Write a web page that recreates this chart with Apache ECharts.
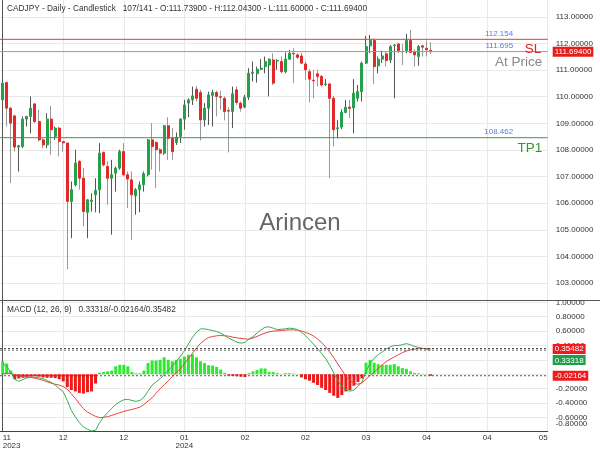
<!DOCTYPE html>
<html><head><meta charset="utf-8">
<script src="https://cdn.jsdelivr.net/npm/echarts@6/dist/echarts.min.js"></script>
<style>html,body{margin:0;padding:0;background:#fff}#c{width:600px;height:450px}</style>
</head><body><div id="c"></div>
<script>
const titleText = 'CADJPY - Daily - Candlestick   107/141 - O:111.73900 - H:112.04300 - L:111.60000 - C:111.69400';
const macdTitle = 'MACD (12, 26, 9)   0.33318/-0.02164/0.35482';
const watermark = 'Arincen';

const opens = [109.88,110.53,109.57,109.28,108.11,108.13,109.16,109.26,109.73,109.07,108.38,108.19,109.16,108.51,108.82,108.32,108.26,106.07,106.69,107.57,106.94,105.66,106.07,106.32,106.51,107.91,107.38,106.94,107.13,107.32,107.94,107.07,106.88,106.28,106.51,106.69,107.07,108.38,108.28,108.01,107.88,108.91,108.44,108.28,108.51,109.16,109.76,109.88,110.28,110.16,109.13,109.57,110.05,110.16,110.00,109.94,109.48,109.44,110.26,109.76,109.61,109.98,110.88,110.86,111.03,111.13,111.19,111.38,111.34,111.32,110.94,111.41,111.63,111.57,111.53,111.23,110.94,110.62,110.86,110.76,110.46,110.48,109.94,108.80,108.86,109.41,109.61,109.58,109.94,110.19,111.26,111.91,112.11,111.16,111.41,111.61,111.38,111.92,111.98,111.70,111.73,112.11,111.69,111.51,111.91,111.82,111.739];
const highs = [110.69,110.57,109.61,109.32,108.19,109.26,109.28,110.01,109.76,109.51,108.44,109.38,109.66,108.88,108.88,108.32,108.28,106.82,108.01,107.63,107.32,106.15,106.38,106.94,108.26,107.94,107.57,107.63,107.38,108.01,108.26,107.19,107.19,106.57,106.82,107.19,108.41,109.01,108.32,108.07,108.94,109.23,108.82,108.66,109.19,109.88,109.94,110.38,110.41,110.26,109.76,110.19,110.26,110.23,110.23,110.01,109.61,110.38,110.38,109.82,110.07,111.07,111.32,111.13,111.41,111.51,111.44,111.63,111.41,111.51,111.66,111.76,111.82,111.63,111.63,111.32,111.03,111.01,111.01,110.82,110.66,110.51,110.03,109.13,109.53,109.88,109.88,110.66,110.44,111.32,112.28,112.32,112.19,111.51,111.73,111.69,111.94,111.98,112.01,111.98,112.36,112.51,111.78,111.94,111.94,112.11,112.043];
const lows = [109.69,108.88,106.76,107.94,107.19,108.07,108.88,108.63,109.01,108.32,108.07,108.07,107.82,108.38,107.76,107.94,103.53,104.69,106.63,106.51,105.13,104.69,105.69,105.66,105.63,107.38,105.94,104.82,106.44,107.26,107.01,105.82,104.63,105.57,105.66,106.44,107.01,107.26,106.57,107.19,107.82,107.63,107.63,108.19,108.26,108.76,109.23,109.69,109.82,108.36,108.88,108.94,108.88,109.26,109.51,109.11,107.91,108.82,109.69,109.44,109.57,109.88,110.57,110.53,111.01,110.88,110.01,110.44,111.01,110.88,110.88,111.38,110.51,111.41,111.23,110.63,109.78,109.94,110.38,110.38,110.41,106.94,108.13,108.44,108.78,109.38,109.19,108.63,109.82,109.82,111.23,111.63,110.48,110.88,111.26,111.13,111.26,109.94,111.63,111.19,111.63,111.63,111.13,111.16,111.51,111.51,111.600];
const closes = [110.51,109.57,109.01,108.11,108.16,109.16,109.26,109.57,109.07,108.38,108.19,109.16,108.76,108.82,108.32,108.27,106.07,106.51,107.51,106.94,105.69,106.13,106.12,106.48,107.88,107.44,106.94,107.07,107.32,107.94,107.07,106.91,106.32,106.51,106.69,107.11,108.38,108.13,108.01,107.88,108.91,108.44,107.94,108.48,109.16,109.69,109.88,110.03,109.94,109.13,109.57,110.07,110.16,110.01,109.98,109.44,109.46,110.11,109.78,109.57,109.98,110.88,110.92,111.03,111.07,111.32,111.41,110.51,111.36,110.94,111.41,111.63,111.61,111.48,111.26,111.01,110.66,110.60,110.76,110.44,110.48,109.94,108.76,108.83,109.41,109.61,109.56,110.13,110.19,111.26,111.88,112.11,111.13,111.41,111.53,111.36,111.88,111.94,111.73,111.69,112.11,111.66,111.57,111.88,111.86,111.76,111.694];

const macdLine = [0.147,0.11,0.027,-0.075,-0.098,-0.075,-0.052,-0.042,-0.042,-0.052,-0.061,-0.089,-0.112,-0.153,-0.2,-0.245,-0.365,-0.503,-0.596,-0.674,-0.734,-0.766,-0.79,-0.78,-0.674,-0.596,-0.536,-0.476,-0.42,-0.384,-0.356,-0.351,-0.365,-0.379,-0.365,-0.319,-0.236,-0.153,-0.107,-0.061,-0.006,0.05,0.11,0.179,0.248,0.326,0.419,0.51,0.584,0.63,0.63,0.62,0.607,0.594,0.571,0.538,0.5,0.474,0.446,0.432,0.442,0.49,0.52,0.571,0.617,0.654,0.658,0.64,0.62,0.626,0.63,0.64,0.635,0.62,0.584,0.538,0.478,0.419,0.354,0.29,0.216,0.124,0.018,-0.089,-0.167,-0.218,-0.236,-0.22,-0.17,-0.11,0.04,0.15,0.22,0.27,0.31,0.35,0.38,0.40,0.40,0.41,0.425,0.41,0.385,0.372,0.36,0.348,0.33318];
const signalLine = [0.004,0.013,0.013,-0.006,-0.024,-0.033,-0.042,-0.047,-0.056,-0.07,-0.084,-0.107,-0.125,-0.139,-0.153,-0.172,-0.208,-0.273,-0.337,-0.411,-0.48,-0.526,-0.558,-0.586,-0.605,-0.6,-0.591,-0.573,-0.554,-0.536,-0.517,-0.503,-0.49,-0.476,-0.458,-0.42,-0.374,-0.328,-0.264,-0.204,-0.148,-0.093,-0.033,0.022,0.077,0.147,0.216,0.29,0.363,0.428,0.474,0.51,0.524,0.534,0.538,0.534,0.529,0.515,0.506,0.497,0.492,0.485,0.505,0.525,0.55,0.572,0.589,0.598,0.603,0.608,0.612,0.617,0.617,0.612,0.6,0.582,0.56,0.53,0.49,0.44,0.38,0.31,0.23,0.142,0.06,-0.03,-0.09,-0.125,-0.14,-0.12,-0.07,-0.02,0.03,0.08,0.13,0.175,0.21,0.24,0.27,0.3,0.322,0.338,0.348,0.354,0.357,0.357,0.35482];
const histogram = [0.18,0.15,0.05,-0.07,-0.06,-0.05,-0.04,-0.035,-0.03,-0.035,-0.045,-0.05,-0.05,-0.055,-0.07,-0.1,-0.18,-0.22,-0.24,-0.26,-0.27,-0.25,-0.24,-0.13,0.02,0.03,0.04,0.05,0.11,0.13,0.13,0.11,0.03,0.012,0.012,0.05,0.155,0.19,0.19,0.2,0.235,0.2,0.18,0.2,0.215,0.245,0.27,0.28,0.235,0.18,0.155,0.125,0.12,0.1,0.065,0.02,-0.02,-0.025,-0.028,-0.035,-0.04,0.015,0.04,0.06,0.08,0.08,0.03,0.03,0.014,0.004,0.014,0.014,0.008,0.004,-0.045,-0.07,-0.09,-0.12,-0.15,-0.19,-0.22,-0.26,-0.3,-0.33,-0.29,-0.24,-0.22,-0.16,-0.11,-0.06,0.16,0.2,0.16,0.14,0.13,0.13,0.13,0.14,0.11,0.085,0.075,0.04,0.018,0.012,0.004,0.004,-0.02164];

const xTickIdx = [0,15,30,45,60,75,90,105,120,135];
const xTickLabels = ['11\n2023','12','12','01\n2024','02','02','03','04','04','05'];
const priceTicks = [103,104,105,106,107,108,109,110,111,112,113];
const macdTicks = [-0.8,1.0,-0.6,-0.4,-0.2,0,0.2,0.4,0.6,0.8];
const xMin = -0.667, xMax = 135;

const slLevel = 112.154, atPriceLevel = 111.695, tp1Level = 108.462, lastClose = 111.694;
const macdLast = 0.33318, histLast = -0.02164, signalLast = 0.35482;

const FONT = 'Liberation Sans, Arial, sans-serif';
const UP = '#27a04c', DOWN = '#e02a2a';
const CLEAR = 'rgba(0,0,0,0)';

const wickData = opens.map((o, i) => [i, o, closes[i], lows[i], highs[i]]);
const bodyData = opens.map((o, i) => [i, o, closes[i], Math.min(o, closes[i]), Math.max(o, closes[i])]);
const macdData = macdLine.map((v, i) => [i, v]);
const sigData = signalLine.map((v, i) => [i, v]);
const histData = histogram.map((v, i) => [i, v]);

// horizontal level line drawn as a 2-point line series spanning the axis range
function levelLine(grid, value, color, type) {
  return {type: 'line', xAxisIndex: grid, yAxisIndex: grid, data: [[xMin, value], [xMax, value]],
    showSymbol: false, silent: true, z: 4, lineStyle: {color: color, width: 1, type: type}};
}
// label attached to a level (marker line with zero width, only label shown)
function levelLabel(grid, value, label) {
  return {type: 'line', xAxisIndex: grid, yAxisIndex: grid, data: [], silent: true, z: 6,
    markLine: {silent: true, symbol: 'none', animation: false,
      lineStyle: {width: 0, color: CLEAR}, label: label, data: [{yAxis: value}]}};
}
const blue = (v) => ({show: true, position: 'insideEndTop', distance: [34.5, 1.5], color: '#5a7be0', fontSize: 8, formatter: v.toFixed(3)});
const big = (t, c, dx, dy) => ({show: true, position: 'insideEndBottom', distance: [dx, dy], color: c, fontSize: 13.5, formatter: t});
const tag = (v, bg, extra) => Object.assign({show: true, position: 'end', distance: 5, color: '#fff', backgroundColor: bg, fontSize: 8, lineHeight: 9, padding: [1, 2, 0, 2], formatter: v.toFixed(5)}, extra || {});

const chart = echarts.init(document.getElementById('c'), null, {renderer: 'canvas'});

chart.setOption({
  animation: false,
  textStyle: {fontFamily: FONT},
  title: [
    {text: titleText, left: 7, top: 5, padding: 0, textStyle: {fontSize: 8.3, fontWeight: 'normal', color: '#333', fontFamily: FONT}},
    {text: macdTitle, left: 7, top: 306, padding: 0, textStyle: {fontSize: 8.3, fontWeight: 'normal', color: '#333', fontFamily: FONT}}
  ],
  graphic: [
    {type: 'line', shape: {x1: 0, y1: 300.5, x2: 600, y2: 300.5}, style: {stroke: '#555', lineWidth: 1}, z: 50},
    {type: 'text', left: 'center', top: 211, style: {text: watermark, fontSize: 24, fill: '#666', fontFamily: FONT}, z: 1}
  ],
  grid: [
    {left: 0, right: 52.3, top: 0, height: 300, outerBoundsMode: 'none', containLabel: false},
    {left: 0, right: 52.3, top: 300.5, height: 131.2, outerBoundsMode: 'none', containLabel: false}
  ],
  xAxis: [
    {gridIndex: 0, type: 'value', min: xMin, max: xMax, axisLine: {show: false}, axisLabel: {show: false},
     axisTick: {show: false, customValues: xTickIdx}, splitLine: {show: true, lineStyle: {color: '#e9e9e9'}}},
    {gridIndex: 1, type: 'value', min: xMin, max: xMax, axisLine: {show: true, onZero: false, lineStyle: {color: '#444'}},
     axisTick: {show: false, customValues: xTickIdx}, splitLine: {show: true, lineStyle: {color: '#e9e9e9'}},
     axisLabel: {customValues: xTickIdx, fontSize: 8, color: '#333', lineHeight: 8.5, margin: 1.5, alignMinLabel: 'left', alignMaxLabel: 'right',
       formatter: (v) => xTickLabels[xTickIdx.indexOf(Math.round(v))] || ''}}
  ],
  yAxis: [
    {gridIndex: 0, type: 'value', position: 'right', min: 102.37, max: 113.63, scale: true,
     axisLine: {show: true, lineStyle: {color: '#555'}}, axisTick: {show: false, customValues: priceTicks},
     splitLine: {show: true, lineStyle: {color: '#e9e9e9'}},
     axisLabel: {customValues: priceTicks, fontSize: 8, color: '#333', margin: 8, padding: [0, 0, 3, 0], formatter: (v) => v.toFixed(5)}},
    {gridIndex: 1, type: 'value', position: 'right', min: -0.8, max: 1.025,
     axisLine: {show: true, lineStyle: {color: '#555'}}, axisTick: {show: false, customValues: macdTicks},
     splitLine: {show: true, lineStyle: {color: '#e9e9e9'}},
     axisLabel: {customValues: macdTicks, fontSize: 8, color: '#333', margin: 8,
       formatter: (v) => Math.abs(v + 0.8) < 1e-6 ? '{lo|' + v.toFixed(5) + '}' : v.toFixed(5),
       rich: {lo: {fontSize: 8, color: '#333', padding: [0, 0, 16, 0]}}}}
  ],
  series: [
    {type: 'candlestick', xAxisIndex: 0, yAxisIndex: 0, data: wickData, barWidth: 0.5, silent: true, z: 2,
     itemStyle: {color: CLEAR, color0: CLEAR, borderColor: '#555', borderColor0: '#999', borderWidth: 1}},
    {type: 'candlestick', xAxisIndex: 0, yAxisIndex: 0, data: bodyData, barWidth: 2.5, silent: true, z: 3,
     itemStyle: {color: UP, color0: DOWN, borderColor: UP, borderColor0: DOWN, borderWidth: 1}},
    levelLine(0, slLevel, '#d9403a', 'solid'),
    levelLine(0, lastClose, '#9a9a9a', 'solid'),
    levelLine(0, tp1Level, '#3a9a3a', 'solid'),
    levelLabel(0, slLevel, blue(slLevel)),
    levelLabel(0, slLevel, big('SL', '#d42a2a', 6.5, 3)),
    levelLabel(0, lastClose, tag(lastClose, '#e3201b')),
    levelLabel(0, atPriceLevel, blue(atPriceLevel)),
    levelLabel(0, atPriceLevel, big('At Price', '#888', 5.5, 3.5)),
    levelLabel(0, tp1Level, blue(tp1Level)),
    levelLabel(0, tp1Level, big('TP1', '#2e9a2e', 5.5, 3.5)),
    {type: 'bar', xAxisIndex: 1, yAxisIndex: 1, data: histData, barWidth: 3, silent: true,
     itemStyle: {color: (p) => p.value[1] >= 0 ? '#2eea2e' : '#f01818'}},
    {type: 'line', xAxisIndex: 1, yAxisIndex: 1, data: sigData, showSymbol: false, silent: true,
     lineStyle: {color: '#e8433c', width: 1}},
    {type: 'line', xAxisIndex: 1, yAxisIndex: 1, data: macdData, showSymbol: false, silent: true,
     lineStyle: {color: '#3aaa55', width: 1}},
    levelLine(1, signalLast, '#333', [2, 2]),
    levelLine(1, macdLast, '#777', [2, 2]),
    levelLine(1, histLast, '#555', [2, 2]),
    levelLabel(1, signalLast, tag(signalLast, '#ee1c1c')),
    levelLabel(1, macdLast, tag(macdLast, '#1f9e49', {position: 'insideEndBottom', distance: [-5, 4.5], align: 'left'})),
    levelLabel(1, histLast, tag(histLast, '#ee1c1c'))
  ]
});
</script></body></html>
